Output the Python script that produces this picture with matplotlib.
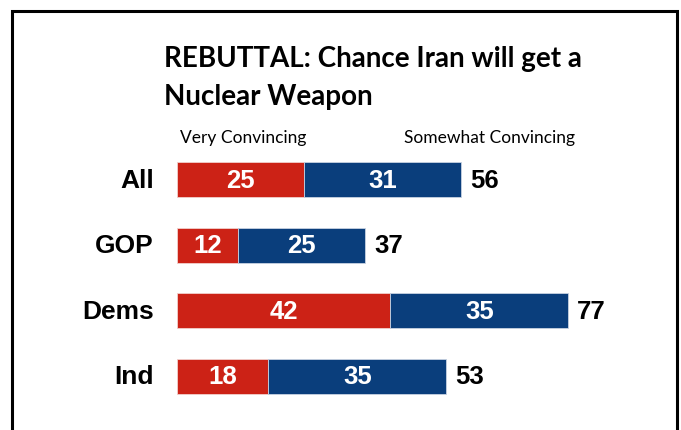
import matplotlib
matplotlib.use("Agg")
import matplotlib.pyplot as plt
from matplotlib.patches import Rectangle

categories = ["All", "GOP", "Dems", "Ind"]
very = [25, 12, 42, 18]
somewhat = [31, 25, 35, 35]
totals = [56, 37, 77, 53]
series_labels = ["Very Convincing", "Somewhat Convincing"]
title = "REBUTTAL: Chance Iran will get a\nNuclear Weapon"

RED = "#CC2216"
BLUE = "#0A3E7C"
BOLD_FONT = ["Liberation Sans", "DejaVu Sans"]
TITLE_FONT = ["Lato", "DejaVu Sans"]

W, H = 681, 430
fig = plt.figure(figsize=(W / 100, H / 100), dpi=100)

# frame
fig.add_artist(Rectangle((12 / W, -0.05), (677 - 12) / W, (H - 11) / H + 0.05,
                         transform=fig.transFigure, fill=False, edgecolor="black",
                         linewidth=2.2))

px_per_unit = 5.08
left_px = 177
xmax = 90
ax = fig.add_axes([left_px / W, (H - 408.75) / H, xmax * px_per_unit / W, 262 / H])
ax.set_xlim(0, xmax)
ax.set_ylim(3.5, -0.5)
ax.axis("off")

ypos = list(range(len(categories)))
bh = 35 / 65.5
ax.barh(ypos, very, height=bh, color=RED, edgecolor="#f2d0cc", linewidth=0.6)
ax.barh(ypos, somewhat, left=very, height=bh, color=BLUE, edgecolor="#c8d2e2", linewidth=0.6)

NUM_SIZE = 18.5
for i in ypos:
    ax.text(-23 / px_per_unit, i + 0.02, categories[i], ha="right", va="center",
            fontsize=19, fontweight="bold", family=BOLD_FONT, clip_on=False)
    ax.text(very[i] / 2, i + 0.02, str(very[i]), ha="center", va="center",
            color="white", fontsize=NUM_SIZE, fontweight="bold", family=BOLD_FONT)
    ax.text(very[i] + somewhat[i] / 2, i + 0.02, str(somewhat[i]), ha="center",
            va="center", color="white", fontsize=NUM_SIZE, fontweight="bold", family=BOLD_FONT)
    ax.text(totals[i] + 9 / px_per_unit, i + 0.02, str(totals[i]), ha="left",
            va="center", color="black", fontsize=NUM_SIZE, fontweight="bold", family=BOLD_FONT)

fig.text(180 / W, 1 - 138 / H, series_labels[0], ha="left", va="center",
         fontsize=12.5, family=TITLE_FONT)
fig.text(404 / W, 1 - 138 / H, series_labels[1], ha="left", va="center",
         fontsize=12.5, family=TITLE_FONT)

fig.text(164 / W, 1 - 46 / H, title, ha="left", va="top", fontsize=20,
         fontweight="bold", family=TITLE_FONT, linespacing=1.55)

fig.savefig("out.png", dpi=100, facecolor="white")
